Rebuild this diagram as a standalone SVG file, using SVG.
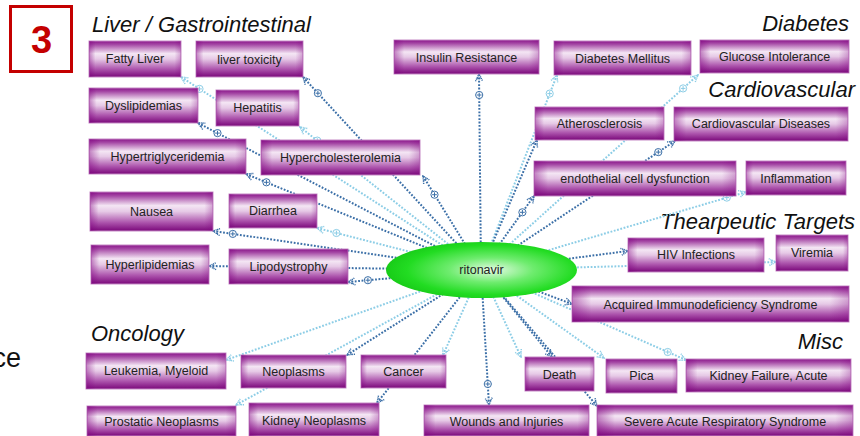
<svg xmlns="http://www.w3.org/2000/svg" xmlns:xlink="http://www.w3.org/1999/xlink" width="860" height="436" viewBox="0 0 860 436">
<defs>
<style>
.nb{fill:url(#ng);stroke:#c58ac5;stroke-width:1}
.nh{fill:url(#nhg);stroke:none}
.nt{font-family:"Liberation Sans",Arial,sans-serif;font-size:12.5px;fill:#222;text-anchor:middle}
.cat{font-family:"Liberation Sans",Arial,sans-serif;font-size:22px;font-style:italic;fill:#111}
.cd{fill:none;stroke:#3b6fa7;stroke-width:2;stroke-dasharray:1.8 1.6;marker-start:url(#ad)}
.cl{fill:none;stroke:#8ccde6;stroke-width:2;stroke-dasharray:1.8 1.6;marker-start:url(#al)}
</style>
<linearGradient id="ng" x1="0" y1="0" x2="0" y2="1">
<stop offset="0" stop-color="#8a168a"/>
<stop offset="0.1" stop-color="#a548a5"/>
<stop offset="0.35" stop-color="#f4e6f4"/>
<stop offset="0.5" stop-color="#e6c9e6"/>
<stop offset="0.78" stop-color="#ad55ad"/>
<stop offset="1" stop-color="#7a087a"/>
</linearGradient>
<linearGradient id="nhg" x1="0" y1="0" x2="1" y2="0">
<stop offset="0" stop-color="#800080" stop-opacity="0.45"/>
<stop offset="0.07" stop-color="#800080" stop-opacity="0"/>
<stop offset="0.93" stop-color="#800080" stop-opacity="0"/>
<stop offset="1" stop-color="#800080" stop-opacity="0.3"/>
</linearGradient>
<radialGradient id="eg" cx="0.55" cy="0.5" r="0.55">
<stop offset="0" stop-color="#e6fbe6"/>
<stop offset="0.4" stop-color="#6fec6f"/>
<stop offset="0.8" stop-color="#22dc22"/>
<stop offset="1" stop-color="#18cc18"/>
</radialGradient>
<marker id="ad" viewBox="0 0 10 10" refX="9" refY="5" markerWidth="9" markerHeight="9" markerUnits="userSpaceOnUse" orient="auto-start-reverse">
<path d="M1,1 L9,5 L1,9 M4,2.5 L4,7.5" fill="none" stroke="#3b6fa7" stroke-width="1.6" stroke-dasharray="1.2 0.8"/>
</marker>
<marker id="al" viewBox="0 0 10 10" refX="9" refY="5" markerWidth="9" markerHeight="9" markerUnits="userSpaceOnUse" orient="auto-start-reverse">
<path d="M1,1 L9,5 L1,9 M4,2.5 L4,7.5" fill="none" stroke="#8ccde6" stroke-width="1.6" stroke-dasharray="1.2 0.8"/>
</marker>
<g id="pd"><circle r="3.6" fill="#fff" stroke="#3b6fa7" stroke-width="1"/><path d="M-2.4,0 H2.4 M0,-2.4 V2.4" stroke="#3b6fa7" stroke-width="1"/></g>
<g id="pl"><circle r="3.6" fill="#fff" stroke="#8ccde6" stroke-width="1"/><path d="M-2.4,0 H2.4 M0,-2.4 V2.4" stroke="#8ccde6" stroke-width="1"/></g>
</defs>
<rect width="860" height="436" fill="#fff"/>

<g id="badge">
<rect x="10.5" y="6.5" width="61" height="65" fill="#fff" stroke="#c40000" stroke-width="3"/>
<text x="41.5" y="53" font-family="Liberation Sans,Arial,sans-serif" font-size="38" font-weight="bold" fill="#c40000" text-anchor="middle">3</text>
</g>
<text x="21" y="367" font-family="Liberation Sans,Arial,sans-serif" font-size="27" fill="#111" text-anchor="end">ce</text>

<g id="categories">
<text class="cat" x="92" y="32">Liver / Gastrointestinal</text>
<text class="cat" x="849" y="31" text-anchor="end">Diabetes</text>
<text class="cat" x="855" y="97" text-anchor="end">Cardiovascular</text>
<text class="cat" x="855" y="229" text-anchor="end">Thearpeutic Targets</text>
<text class="cat" x="91" y="341">Oncology</text>
<text class="cat" x="843" y="349" text-anchor="end">Misc</text>
</g>

<g id="connectors">
<path class="cl" d="M181,77 L481,270"/>
<path class="cd" d="M303,77 L481,270"/>
<path class="cd" d="M198,123 L481,270"/>
<path class="cl" d="M300,127 L481,270"/>
<path class="cd" d="M246,174 L481,270"/>
<path class="cd" d="M423,176 L481,270"/>
<path class="cd" d="M213,231 L481,270"/>
<path class="cl" d="M317,228 L481,270"/>
<path class="cd" d="M209,266 L481,270"/>
<path class="cd" d="M348,282 L481,270"/>
<path class="cd" d="M479,74 L481,270"/>
<path class="cl" d="M557,75 L481,270"/>
<path class="cl" d="M698,75 L481,270"/>
<path class="cd" d="M537,140 L481,270"/>
<path class="cd" d="M675,141 L481,270"/>
<path class="cd" d="M534,196 L481,270"/>
<path class="cl" d="M746,192 L481,270"/>
<path class="cd" d="M628,251 L481,270"/>
<path class="cl" d="M776,262 L481,270"/>
<path class="cd" d="M572,304 L481,270"/>
<path class="cl" d="M686,360 L481,270"/>
<path class="cl" d="M604,358 L481,270"/>
<path class="cd" d="M552,357 L481,270"/>
<path class="cl" d="M521,357 L481,270"/>
<path class="cd" d="M597,406 L481,270"/>
<path class="cd" d="M489,405 L481,270"/>
<path class="cl" d="M443,355 L481,270"/>
<path class="cd" d="M377,403 L481,270"/>
<path class="cd" d="M347,355 L481,270"/>
<path class="cl" d="M236,405 L481,270"/>
<path class="cl" d="M226,360 L481,270"/>
<use href="#pl" x="199.5" y="88.9"/>
<use href="#pd" x="317.9" y="93.2"/>
<use href="#pd" x="217.5" y="133.1"/>
<use href="#pl" x="317.3" y="140.6"/>
<use href="#pd" x="266.4" y="182.3"/>
<use href="#pd" x="434.5" y="194.7"/>
<use href="#pd" x="232.8" y="233.9"/>
<use href="#pl" x="336.4" y="233"/>
<use href="#pd" x="367.9" y="280.2"/>
<use href="#pd" x="479.2" y="95"/>
<use href="#pl" x="549.7" y="93.6"/>
<use href="#pl" x="683.1" y="88.4"/>
<use href="#pd" x="658.3" y="152.1"/>
<use href="#pd" x="522.4" y="212.3"/>
<use href="#pl" x="726.8" y="197.6"/>
<use href="#pl" x="667.7" y="352"/>
<use href="#pd" x="487.8" y="384"/>
</g>

<g id="n-fatty"><rect class="nb" x="89" y="41" width="92" height="36"/><rect class="nh" x="89" y="41" width="92" height="36"/><text class="nt" x="135" y="63">Fatty Liver</text></g>
<g id="n-livertox"><rect class="nb" x="196" y="41" width="107" height="36"/><rect class="nh" x="196" y="41" width="107" height="36"/><text class="nt" x="249.5" y="64">liver toxicity</text></g>
<g id="n-dyslip"><rect class="nb" x="89" y="88" width="109" height="35"/><rect class="nh" x="89" y="88" width="109" height="35"/><text class="nt" x="143.5" y="110">Dyslipidemias</text></g>
<g id="n-hepatitis"><rect class="nb" x="216" y="90" width="83" height="36"/><rect class="nh" x="216" y="90" width="83" height="36"/><text class="nt" x="257.5" y="112">Hepatitis</text></g>
<g id="n-hypertrig"><rect class="nb" x="89" y="139" width="157" height="35"/><rect class="nh" x="89" y="139" width="157" height="35"/><text class="nt" x="167.5" y="161">Hypertriglyceridemia</text></g>
<g id="n-hyperchol"><rect class="nb" x="261" y="140" width="159" height="35"/><rect class="nh" x="261" y="140" width="159" height="35"/><text class="nt" x="340.5" y="162">Hypercholesterolemia</text></g>
<g id="n-nausea"><rect class="nb" x="90" y="192" width="123" height="39"/><rect class="nh" x="90" y="192" width="123" height="39"/><text class="nt" x="151.5" y="216">Nausea</text></g>
<g id="n-diarrhea"><rect class="nb" x="229" y="194" width="88" height="34"/><rect class="nh" x="229" y="194" width="88" height="34"/><text class="nt" x="273" y="215">Diarrhea</text></g>
<g id="n-hyperlip"><rect class="nb" x="91" y="245" width="118" height="39"/><rect class="nh" x="91" y="245" width="118" height="39"/><text class="nt" x="150" y="269">Hyperlipidemias</text></g>
<g id="n-lipodys"><rect class="nb" x="229" y="249" width="119" height="35"/><rect class="nh" x="229" y="249" width="119" height="35"/><text class="nt" x="288.5" y="271">Lipodystrophy</text></g>
<g id="n-insulin"><rect class="nb" x="394" y="40" width="145" height="34"/><rect class="nh" x="394" y="40" width="145" height="34"/><text class="nt" x="466.5" y="62">Insulin Resistance</text></g>
<g id="n-diabmel"><rect class="nb" x="554" y="41" width="137" height="34"/><rect class="nh" x="554" y="41" width="137" height="34"/><text class="nt" x="622.5" y="63">Diabetes Mellitus</text></g>
<g id="n-glucose"><rect class="nb" x="700" y="40" width="149" height="33"/><rect class="nh" x="700" y="40" width="149" height="33"/><text class="nt" x="774.5" y="61">Glucose Intolerance</text></g>
<g id="n-athero"><rect class="nb" x="535" y="107" width="129" height="33"/><rect class="nh" x="535" y="107" width="129" height="33"/><text class="nt" x="599.5" y="128">Atherosclerosis</text></g>
<g id="n-cvd"><rect class="nb" x="674" y="107" width="174" height="34"/><rect class="nh" x="674" y="107" width="174" height="34"/><text class="nt" x="761" y="128">Cardiovascular Diseases</text></g>
<g id="n-endo"><rect class="nb" x="534" y="161" width="202" height="35"/><rect class="nh" x="534" y="161" width="202" height="35"/><text class="nt" x="635" y="183">endothelial cell dysfunction</text></g>
<g id="n-inflam"><rect class="nb" x="746" y="161" width="100" height="34"/><rect class="nh" x="746" y="161" width="100" height="34"/><text class="nt" x="796" y="183">Inflammation</text></g>
<g id="n-hiv"><rect class="nb" x="628" y="238" width="136" height="34"/><rect class="nh" x="628" y="238" width="136" height="34"/><text class="nt" x="696" y="259">HIV Infections</text></g>
<g id="n-viremia"><rect class="nb" x="776" y="235" width="72" height="36"/><rect class="nh" x="776" y="235" width="72" height="36"/><text class="nt" x="812" y="257">Viremia</text></g>
<g id="n-aids"><rect class="nb" x="572" y="286" width="277" height="36"/><rect class="nh" x="572" y="286" width="277" height="36"/><text class="nt" x="710.5" y="309">Acquired Immunodeficiency Syndrome</text></g>
<g id="n-leuk"><rect class="nb" x="86" y="353" width="140" height="36"/><rect class="nh" x="86" y="353" width="140" height="36"/><text class="nt" x="156" y="375">Leukemia, Myeloid</text></g>
<g id="n-neopl"><rect class="nb" x="241" y="355" width="105" height="33"/><rect class="nh" x="241" y="355" width="105" height="33"/><text class="nt" x="293.5" y="376">Neoplasms</text></g>
<g id="n-cancer"><rect class="nb" x="361" y="355" width="85" height="33"/><rect class="nh" x="361" y="355" width="85" height="33"/><text class="nt" x="403.5" y="376">Cancer</text></g>
<g id="n-prost"><rect class="nb" x="87" y="406" width="149" height="30"/><rect class="nh" x="87" y="406" width="149" height="30"/><text class="nt" x="161.5" y="426">Prostatic Neoplasms</text></g>
<g id="n-kidneo"><rect class="nb" x="249" y="403" width="130" height="33"/><rect class="nh" x="249" y="403" width="130" height="33"/><text class="nt" x="314" y="425">Kidney Neoplasms</text></g>
<g id="n-wounds"><rect class="nb" x="424" y="405" width="165" height="31"/><rect class="nh" x="424" y="405" width="165" height="31"/><text class="nt" x="506.5" y="426">Wounds and Injuries</text></g>
<g id="n-death"><rect class="nb" x="525" y="357" width="69" height="34"/><rect class="nh" x="525" y="357" width="69" height="34"/><text class="nt" x="559.5" y="379">Death</text></g>
<g id="n-pica"><rect class="nb" x="606" y="359" width="71" height="34"/><rect class="nh" x="606" y="359" width="71" height="34"/><text class="nt" x="641.5" y="380">Pica</text></g>
<g id="n-kfa"><rect class="nb" x="686" y="359" width="165" height="33"/><rect class="nh" x="686" y="359" width="165" height="33"/><text class="nt" x="768.5" y="380">Kidney Failure, Acute</text></g>
<g id="n-sars"><rect class="nb" x="597" y="405" width="256" height="31"/><rect class="nh" x="597" y="405" width="256" height="31"/><text class="nt" x="725" y="426">Severe Acute Respiratory Syndrome</text></g>

<g id="n-ritonavir">
<ellipse cx="481.5" cy="270" rx="95.5" ry="28" fill="url(#eg)"/>
<text class="nt" x="481.5" y="274">ritonavir</text>
</g>
</svg>
